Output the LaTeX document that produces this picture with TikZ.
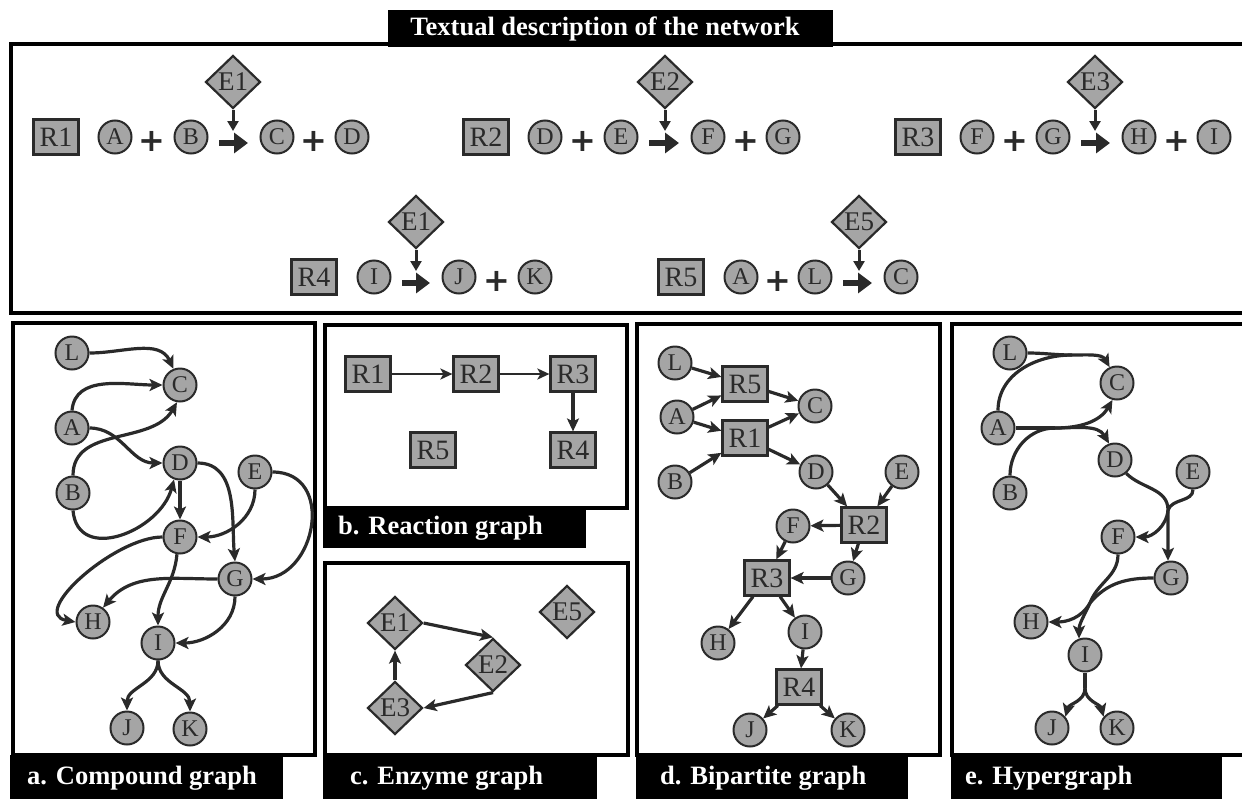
\documentclass[tikz,border=0pt]{standalone}
\usepackage{fontspec}
\setmainfont{Liberation Serif}
\newfontfamily\plusfont{DejaVu Sans}
\usetikzlibrary{arrows.meta,shapes.geometric}
\definecolor{nodefill}{RGB}{165,165,165}
\definecolor{ink}{RGB}{42,42,42}
\tikzset{
  cmp/.style={circle, draw=ink, fill=nodefill, line width=2pt, minimum size=33pt, inner sep=0pt, text=ink, font=\fontsize{24}{24}\selectfont},
  rxn/.style={rectangle, draw=ink, fill=nodefill, line width=2.2pt, minimum width=45pt, minimum height=35pt, inner sep=0pt, text=ink, font=\fontsize{28}{28}\selectfont},
  enz/.style={diamond, draw=ink, fill=nodefill, line width=2.2pt, minimum width=55pt, minimum height=53pt, inner sep=0pt, text=ink, font=\fontsize{27}{27}\selectfont},
  plussign/.style={inner sep=0pt, text=ink, font=\plusfont\bfseries\fontsize{32}{32}\selectfont},
  bigarrow/.style={draw=ink, line width=6.5pt, -{Triangle[length=14pt,width=20pt]}, shorten <=10.5pt, shorten >=11.5pt},
  enzarrow/.style={draw=ink, line width=3pt, -{Triangle[length=10pt,width=11pt]}},
  edge/.style={draw=ink, line width=3.2pt, -{Stealth[length=13pt,width=12pt,inset=3pt]}},
  thinedge/.style={draw=ink, line width=2.6pt, -{Stealth[length=12pt,width=11pt,inset=3pt]}},
  hline/.style={draw=ink, line width=3.2pt},
  frame/.style={draw=black, line width=4pt},
  labeltext/.style={anchor=west, inner sep=0pt, text=white, font=\fontsize{26.5}{30}\selectfont\bfseries},
}
\begin{document}
\begin{tikzpicture}[x=1pt,y=1pt]
\useasboundingbox (0,0) rectangle (1242,-798);
\clip (0,0) rectangle (1242,-798);

% ---------------- top panel ----------------
\draw[frame] (11,-44) rectangle (1252,-313);
\fill[black] (388,-10) rectangle (833,-47);
\node[labeltext, anchor=center] (title) at (605,-29) {Textual description of the network};

% R1
\node[rxn] (tR1) at (56,-137) {R1};
\node[cmp] (t1A) at (115,-137) {A};
\node[plussign] (t1p) at (152,-141) {+};
\node[cmp] (t1B) at (191,-137) {B};
\node[enz] (t1E) at (233,-82) {E1};
\node[cmp] (t1C) at (277,-137) {C};
\node[plussign] (t1q) at (314,-141) {+};
\node[cmp] (t1D) at (352,-137) {D};
\coordinate (t1x) at (233,-131);
\draw[bigarrow] ([yshift=-6pt]t1B.east) -- ([yshift=-6pt]t1C.west);
\draw[enzarrow] (t1E.south) -- (t1x);

% R2
\node[rxn] (tR2) at (486,-137) {R2};
\node[cmp] (t2D) at (545,-137) {D};
\node[plussign] (t2p) at (583,-141) {+};
\node[cmp] (t2E) at (621,-137) {E};
\node[enz] (t2En) at (665,-82) {E2};
\node[cmp] (t2F) at (708,-137) {F};
\node[plussign] (t2q) at (746,-141) {+};
\node[cmp] (t2G) at (783,-137) {G};
\coordinate (t2x) at (665,-131);
\draw[bigarrow] ([yshift=-6pt]t2E.east) -- ([yshift=-6pt]t2F.west);
\draw[enzarrow] (t2En.south) -- (t2x);

% R3
\node[rxn] (tR3) at (918,-137) {R3};
\node[cmp] (t3F) at (977,-137) {F};
\node[plussign] (t3p) at (1015,-141) {+};
\node[cmp] (t3G) at (1053,-137) {G};
\node[enz] (t3En) at (1095,-82) {E3};
\node[cmp] (t3H) at (1139,-137) {H};
\node[plussign] (t3q) at (1177,-141) {+};
\node[cmp] (t3I) at (1214,-137) {I};
\coordinate (t3x) at (1095,-131);
\draw[bigarrow] ([yshift=-6pt]t3G.east) -- ([yshift=-6pt]t3H.west);
\draw[enzarrow] (t3En.south) -- (t3x);

% R4
\node[rxn] (tR4) at (314,-277) {R4};
\node[cmp] (t4I) at (374,-277) {I};
\node[enz] (t4En) at (416,-222) {E1};
\node[cmp] (t4J) at (459,-277) {J};
\node[plussign] (t4q) at (497,-281) {+};
\node[cmp] (t4K) at (535,-277) {K};
\coordinate (t4x) at (416,-271);
\draw[bigarrow] ([yshift=-6pt]t4I.east) -- ([yshift=-6pt]t4J.west);
\draw[enzarrow] (t4En.south) -- (t4x);

% R5
\node[rxn] (tR5) at (681,-277) {R5};
\node[cmp] (t5A) at (741,-277) {A};
\node[plussign] (t5p) at (778,-281) {+};
\node[cmp] (t5L) at (815,-277) {L};
\node[enz] (t5En) at (859,-222) {E5};
\node[cmp] (t5C) at (901,-277) {C};
\coordinate (t5x) at (859,-271);
\draw[bigarrow] ([yshift=-6pt]t5L.east) -- ([yshift=-6pt]t5C.west);
\draw[enzarrow] (t5En.south) -- (t5x);

% ---------------- panel a: compound graph ----------------
\draw[frame] (13,-323) rectangle (315,-755);
\fill[black] (10,-755) rectangle (283,-800);
\node[labeltext] (la) at (27,-778) {a. Compound graph};

\node[cmp] (aL) at (72,-353) {L};
\node[cmp] (aC) at (180,-385) {C};
\node[cmp] (aA) at (72,-428) {A};
\node[cmp] (aD) at (180,-463) {D};
\node[cmp] (aE) at (255,-472) {E};
\node[cmp] (aB) at (73,-493) {B};
\node[cmp] (aF) at (180,-537) {F};
\node[cmp] (aG) at (235,-579) {G};
\node[cmp] (aH) at (93,-622) {H};
\node[cmp] (aI) at (158,-643) {I};
\node[cmp] (aJ) at (127,-728) {J};
\node[cmp] (aK) at (190,-729) {K};

\draw[edge] (aL.east) to[out=0,in=115] (aC.112);
\draw[edge] (aA.north) to[out=85,in=180] (aC.west);
\draw[edge] (aB.north) to[out=90,in=-120] (aC.-100);
\draw[edge] (aA.east) to[out=0,in=180] (aD.west);
\draw[edge] (aB.south) to[out=-85,in=-105,looseness=1.3] (aD.-110);
\draw[edge] (aD) -- (aF);
\draw[edge] (aD.east) to[out=0,in=95] (aG.north);
\draw[edge] (aE.south) to[out=-90,in=0] (aF.east);
\draw[edge] (aE.east) to[out=0,in=0,looseness=1.5] (aG.east);
\draw[edge] (aF.west) to[out=180,in=170,looseness=1.0] (aH.west);
\draw[edge] (aF.-100) to[out=-95,in=90] (aI.north);
\draw[edge] (aG.west) to[out=180,in=50] (aH.55);
\draw[edge] (aG.south) to[out=-90,in=0] (aI.east);
\draw[edge] (aI.south) to[out=-90,in=90] (aJ.north);
\draw[edge] (aI.south) to[out=-90,in=90] (aK.north);

% ---------------- panel b: reaction graph ----------------
\draw[frame] (325,-325) rectangle (627,-508);
\fill[black] (323,-508) rectangle (586,-548);
\node[labeltext] (lb) at (338,-528) {b. Reaction graph};

\node[rxn] (bR1) at (368,-374) {R1};
\node[rxn] (bR2) at (476,-374) {R2};
\node[rxn] (bR3) at (573,-374) {R3};
\node[rxn] (bR5) at (433,-450) {R5};
\node[rxn] (bR4) at (573,-450) {R4};
\draw[thinedge] (bR1) -- (bR2);
\draw[thinedge] (bR2) -- (bR3);
\draw[edge] (bR3) -- (bR4);

% ---------------- panel c: enzyme graph ----------------
\draw[frame] (325,-563) rectangle (628,-755);
\fill[black] (323,-755) rectangle (597,-800);
\node[labeltext] (lc) at (350,-778) {c. Enzyme graph};

\node[enz] (cE1) at (395,-623) {E1};
\node[enz] (cE2) at (493,-665) {E2};
\node[enz] (cE3) at (395,-708) {E3};
\node[enz] (cE5) at (567,-612) {E5};
\draw[edge] (cE1.east) -- (cE2.north);
\draw[edge] (cE2.south) -- (cE3.east);
\draw[edge] (cE3.north) -- (cE1.south);

% ---------------- panel d: bipartite graph ----------------
\draw[frame] (637,-324) rectangle (940,-755);
\fill[black] (636,-755) rectangle (908,-800);
\node[labeltext] (ld) at (660,-778) {d. Bipartite graph};

\node[cmp] (dL) at (675,-363) {L};
\node[rxn] (dR5) at (745,-384) {R5};
\node[cmp] (dC) at (815,-406) {C};
\node[cmp] (dA) at (677,-417) {A};
\node[rxn] (dR1) at (745,-438) {R1};
\node[cmp] (dB) at (675,-482) {B};
\node[cmp] (dD) at (816,-472) {D};
\node[cmp] (dE) at (902,-472) {E};
\node[rxn] (dR2) at (864,-525) {R2};
\node[cmp] (dF) at (793,-526) {F};
\node[rxn] (dR3) at (767,-578) {R3};
\node[cmp] (dG) at (848,-578) {G};
\node[cmp] (dH) at (718,-643) {H};
\node[cmp] (dI) at (805,-632) {I};
\node[rxn] (dR4) at (799,-687) {R4};
\node[cmp] (dJ) at (750,-730) {J};
\node[cmp] (dK) at (848,-730) {K};

\draw[edge] (dL) -- (dR5);
\draw[edge] (dA) -- (dR5);
\draw[edge] (dA) -- (dR1);
\draw[edge] (dB) -- (dR1);
\draw[edge] (dR5) -- (dC);
\draw[edge] (dR1) -- (dC);
\draw[edge] (dR1) -- (dD);
\draw[edge] (dD) -- (dR2);
\draw[edge] (dE) -- (dR2);
\draw[edge] (dR2) -- (dF);
\draw[edge] (dR2) -- (dG);
\draw[edge] (dF) -- (dR3);
\draw[edge] (dG) -- (dR3);
\draw[edge] (dR3) -- (dH);
\draw[edge] (dR3) -- (dI);
\draw[edge] (dI) -- (dR4);
\draw[edge] (dR4) -- (dJ);
\draw[edge] (dR4) -- (dK);

% ---------------- panel e: hypergraph ----------------
\draw[frame] (952,-324) rectangle (1252,-755);
\fill[black] (951,-755) rectangle (1222,-800);
\node[labeltext] (le) at (965,-778) {e. Hypergraph};

\node[cmp] (eL) at (1010,-353) {L};
\node[cmp] (eC) at (1117,-383) {C};
\node[cmp] (eA) at (998,-428) {A};
\node[cmp] (eD) at (1115,-460) {D};
\node[cmp] (eE) at (1193,-472) {E};
\node[cmp] (eB) at (1010,-493) {B};
\node[cmp] (eF) at (1118,-537) {F};
\node[cmp] (eG) at (1171,-578) {G};
\node[cmp] (eH) at (1031,-622) {H};
\node[cmp] (eI) at (1085,-655) {I};
\node[cmp] (eJ) at (1052,-728) {J};
\node[cmp] (eK) at (1117,-728) {K};

\coordinate (j5) at (1072,-355);
\coordinate (j1) at (1055,-428);
\coordinate (j2) at (1168,-510);
\coordinate (j3) at (1090,-603);
\coordinate (j4) at (1085,-688);

% R5: L + A -> C
\draw[hline] (eL.east) to[out=0,in=180] (j5);
\draw[hline] (eA.north) to[out=90,in=180] (j5);
\draw[edge] (j5) to[out=0,in=120] (eC.115);
% R1: A + B -> C + D
\draw[hline] (eA.east) -- (j1);
\draw[hline] (eB.north) to[out=90,in=180] (j1);
\draw[edge] (j1) to[out=0,in=-120] (eC.-105);
\draw[edge] (j1) to[out=0,in=120] (eD.110);
% R2: D + E -> F + G
\draw[hline] (eD.-50) to[out=-45,in=90] (j2);
\draw[hline] (eE.south) to[out=-90,in=70] (j2);
\draw[edge] (j2) to[out=-95,in=0] (eF.east);
\draw[edge] (j2) to[out=-90,in=90] (eG.100);
% R3: F + G -> H + I
\draw[hline] (eF.south) to[out=-90,in=70] (j3);
\draw[hline] (eG.west) to[out=180,in=50] (j3);
\draw[edge] (j3) to[out=-120,in=0] (eH.east);
\draw[edge] (j3) to[out=-115,in=90] (eI.110);
% R4: I -> J + K
\draw[hline] (eI.south) -- (j4);
\draw[edge] (j4) to[out=-90,in=75] (eJ.40);
\draw[edge] (j4) to[out=-90,in=105] (eK.140);
\end{tikzpicture}
\end{document}
